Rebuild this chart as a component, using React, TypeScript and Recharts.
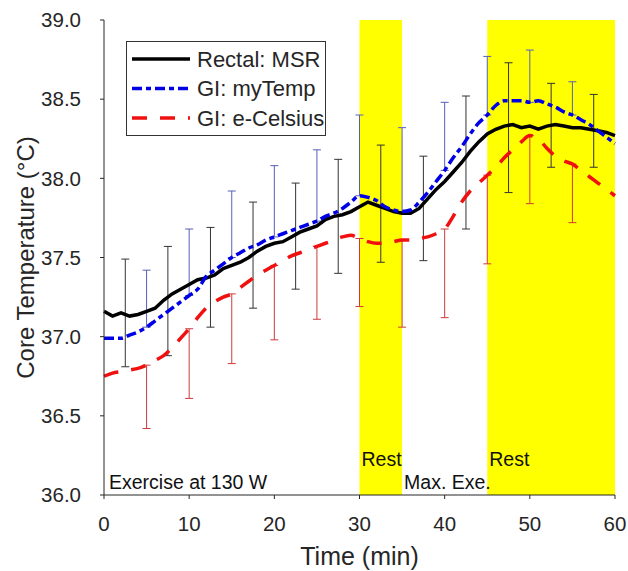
import React from "react";
import {
  ComposedChart,
  Line,
  Scatter,
  ErrorBar,
  XAxis,
  YAxis,
  ReferenceArea,
  Legend,
} from "recharts";

// minutes, one reading per minute
const times = [
  0, 1, 2, 3, 4, 5, 6, 7, 8, 9, 10, 11, 12, 13, 14, 15, 16, 17, 18, 19, 20,
  21, 22, 23, 24, 25, 26, 27, 28, 29, 30, 31, 32, 33, 34, 35, 36, 37, 38, 39,
  40, 41, 42, 43, 44, 45, 46, 47, 48, 49, 50, 51, 52, 53, 54, 55, 56, 57, 58,
  59, 60,
];

const rectalMsr = [
  37.16, 37.13, 37.15, 37.13, 37.14, 37.16, 37.18, 37.23, 37.27, 37.3, 37.33,
  37.36, 37.37, 37.39, 37.43, 37.45, 37.47, 37.5, 37.54, 37.57, 37.59, 37.6,
  37.63, 37.66, 37.68, 37.7, 37.74, 37.76, 37.77, 37.79, 37.82, 37.85, 37.83,
  37.81, 37.79, 37.78, 37.78, 37.81, 37.87, 37.93, 37.98, 38.04, 38.1, 38.17,
  38.23, 38.28, 38.31, 38.33, 38.34, 38.32, 38.33, 38.31, 38.33, 38.34, 38.33,
  38.32, 38.32, 38.31, 38.3, 38.29, 38.27,
];

const giMyTemp = [
  36.99, 36.99, 36.99, 37.01, 37.03, 37.06, 37.1, 37.14, 37.18, 37.22, 37.26,
  37.3, 37.38, 37.42, 37.46, 37.5, 37.53, 37.56, 37.58, 37.61, 37.63, 37.65,
  37.67, 37.69, 37.71, 37.73, 37.76, 37.78, 37.81, 37.85, 37.89, 37.88, 37.86,
  37.82, 37.8, 37.79, 37.8, 37.85, 37.91, 37.98, 38.05, 38.13, 38.2, 38.28,
  38.35, 38.4, 38.46, 38.49, 38.49, 38.49, 38.48, 38.49, 38.47, 38.45, 38.42,
  38.4, 38.37, 38.34, 38.3, 38.26, 38.22,
];

const giECelsius = [
  36.75, 36.77, 36.78, 36.79, 36.8, 36.82, 36.85, 36.88, 36.93, 36.99, 37.05,
  37.12, 37.18, 37.22, 37.25, 37.27, 37.31, 37.35, 37.39, 37.42, 37.45, 37.48,
  37.51, 37.53, 37.55, 37.57, 37.59, 37.61, 37.63, 37.64, 37.62, 37.6, 37.59,
  37.59, 37.6, 37.61, 37.61, 37.62, 37.63, 37.65, 37.68, 37.76, 37.85, 37.92,
  37.97, 38.02, 38.07, 38.13, 38.18, 38.23, 38.27, 38.25, 38.19, 38.14, 38.11,
  38.09, 38.05, 38.01, 37.97, 37.93, 37.89,
];

// rectal error bars (both directions)
const rectalBarTimes = [2.5, 7.5, 12.5, 17.5, 22.5, 27.5, 32.5, 37.5, 42.5, 47.5, 52.5, 57.5];
const rectalBarLow = [36.81, 36.88, 37.06, 37.18, 37.3, 37.4, 37.47, 37.48, 37.68, 37.91, 38.07, 38.07];
const rectalBarHigh = [37.49, 37.57, 37.69, 37.85, 37.97, 38.12, 38.21, 38.14, 38.52, 38.73, 38.6, 38.53];

// GI error bars: myTemp upward only, e-Celsius downward only
const giBarTimes = [5, 10, 15, 20, 25, 30, 35, 40, 45, 50, 55];
const myTempBarHigh = [37.42, 37.68, 37.92, 38.08, 38.18, 38.4, 38.32, 38.48, 38.77, 38.81, 38.61];
const eCelsiusBarLow = [36.42, 36.61, 36.83, 36.98, 37.11, 37.19, 37.06, 37.12, 37.46, 37.84, 37.72];

const xTicks = [0, 10, 20, 30, 40, 50, 60];
const yTicks = [36, 36.5, 37, 37.5, 38, 38.5, 39];

const lineData = times.map((t, i) => ({
  t,
  rectal: rectalMsr[i],
  myTemp: giMyTemp[i],
  eCelsius: giECelsius[i],
}));

const valueAt = (arr: number[], t: number) => arr[times.indexOf(t)];

const rectalBars = rectalBarTimes.map((t, i) => {
  const mean = (rectalBarLow[i] + rectalBarHigh[i]) / 2;
  return { t, mean, err: [mean - rectalBarLow[i], rectalBarHigh[i] - mean] };
});
const myTempBars = giBarTimes.map((t, i) => {
  const mean = valueAt(giMyTemp, t);
  return { t, mean, err: [0, myTempBarHigh[i] - mean] };
});
const eCelsiusBars = giBarTimes.map((t, i) => {
  const mean = valueAt(giECelsius, t);
  return { t, mean, err: [mean - eCelsiusBarLow[i], 0] };
});

const FONT = "'Liberation Sans', Arial, sans-serif";
const INK = "#262626";

const legendItems = [
  { name: "Rectal: MSR", color: "#000000", dash: undefined },
  { name: "GI: myTemp", color: "#0000e6", dash: "10 4 5 4" },
  { name: "GI: e-Celsius", color: "#f01010", dash: "15 13" },
];

const LegendBox = () => (
  <svg width={200} height={95} style={{ display: "block" }}>
    <rect x={0.5} y={0.5} width={199} height={94} fill="#fff" stroke="#333" strokeWidth={1} />
    {legendItems.map((it, i) => (
      <g key={it.name}>
        <line
          x1={6}
          x2={64}
          y1={18 + i * 29.5}
          y2={18 + i * 29.5}
          stroke={it.color}
          strokeWidth={3.5}
          strokeDasharray={it.dash}
        />
        <text x={71} y={18 + i * 29.5} dy="0.36em" fontSize={22} fill={INK} fontFamily={FONT}>
          {it.name}
        </text>
      </g>
    ))}
  </svg>
);

const AreaLabel = (props: any) => {
  const { viewBox, text, dx, dy } = props;
  return (
    <text
      x={viewBox.x + dx}
      y={viewBox.y + viewBox.height - dy}
      fontSize={19.5}
      fill="#111"
      fontFamily={FONT}
    >
      {text}
    </text>
  );
};

const YTitle = (props: any) => {
  const { viewBox } = props;
  const cx = viewBox.x + 25;
  const cy = viewBox.y + viewBox.height / 2;
  return (
    <text
      x={cx}
      y={cy}
      transform={`rotate(-90 ${cx} ${cy})`}
      textAnchor="middle"
      dominantBaseline="central"
      fontSize={24}
      fill={INK}
      fontFamily={FONT}
    >
      Core Temperature (°C)
    </text>
  );
};

const XTitle = (props: any) => {
  const { viewBox } = props;
  return (
    <text
      x={viewBox.x + viewBox.width / 2}
      y={viewBox.y + 70}
      textAnchor="middle"
      fontSize={25}
      fill={INK}
      fontFamily={FONT}
    >
      Time (min)
    </text>
  );
};

const hidden = () => <g />;

export default function App() {
  return (
    <div style={{ position: "absolute", left: 0, top: 0, background: "#fff" }}>
      <ComposedChart
        width={628}
        height={571}
        data={lineData}
        margin={{ top: 20, right: 13, bottom: 0, left: 0 }}
        style={{ fontFamily: FONT }}
      >
        <ReferenceArea
          x1={30}
          x2={35}
          y1={36}
          y2={39}
          fill="#ffff00"
          fillOpacity={1}
          stroke="none"
          label={<AreaLabel text="Rest" dx={2} dy={29} />}
        />
        <ReferenceArea
          x1={45}
          x2={60}
          y1={36}
          y2={39}
          fill="#ffff00"
          fillOpacity={1}
          stroke="none"
          label={<AreaLabel text="Rest" dx={2} dy={29} />}
        />
        <ReferenceArea
          x1={0}
          x2={30}
          y1={36}
          y2={39}
          fillOpacity={0}
          stroke="none"
          label={<AreaLabel text="Exercise at 130 W" dx={5} dy={6} />}
        />
        <ReferenceArea
          x1={35}
          x2={45}
          y1={36}
          y2={39}
          fillOpacity={0}
          stroke="none"
          label={<AreaLabel text="Max. Exe." dx={2} dy={6} />}
        />
        <XAxis
          dataKey="t"
          type="number"
          domain={[0, 60]}
          ticks={xTicks}
          height={76}
          tickSize={4}
          tickMargin={17}
          stroke={INK}
          tick={{ fontSize: 20.5, fill: INK }}
          label={<XTitle />}
        />
        <YAxis
          type="number"
          domain={[36, 39]}
          ticks={yTicks}
          width={104}
          tickSize={4}
          tickMargin={19}
          stroke={INK}
          tick={{ fontSize: 20.5, fill: INK }}
          tickFormatter={(v: number) => v.toFixed(1)}
          label={<YTitle />}
        />
        <Legend
          layout="vertical"
          align="center"
          verticalAlign="middle"
          content={<LegendBox />}
          wrapperStyle={{ left: 126, top: 41, width: 200, height: 95 }}
        />
        <Scatter data={rectalBars} dataKey="mean" shape={hidden} isAnimationActive={false} legendType="none">
          <ErrorBar dataKey="err" direction="y" width={4} stroke="#333333" strokeWidth={1} isAnimationActive={false} />
        </Scatter>
        <Scatter data={myTempBars} dataKey="mean" shape={hidden} isAnimationActive={false} legendType="none">
          <ErrorBar dataKey="err" direction="y" width={4} stroke="#5560b8" strokeWidth={1} isAnimationActive={false} />
        </Scatter>
        <Scatter data={eCelsiusBars} dataKey="mean" shape={hidden} isAnimationActive={false} legendType="none">
          <ErrorBar dataKey="err" direction="y" width={4} stroke="#d03a3a" strokeWidth={1} isAnimationActive={false} />
        </Scatter>
        <Line
          dataKey="rectal"
          type="linear"
          stroke="#000000"
          strokeWidth={3.5}
          dot={false}
          isAnimationActive={false}
        />
        <Line
          dataKey="myTemp"
          type="monotone"
          stroke="#0000e6"
          strokeWidth={3.5}
          strokeDasharray="10 4 5 4"
          dot={false}
          isAnimationActive={false}
        />
        <Line
          dataKey="eCelsius"
          type="monotone"
          stroke="#f01010"
          strokeWidth={3.5}
          strokeDasharray="15 13"
          dot={false}
          isAnimationActive={false}
        />
      </ComposedChart>
    </div>
  );
}
